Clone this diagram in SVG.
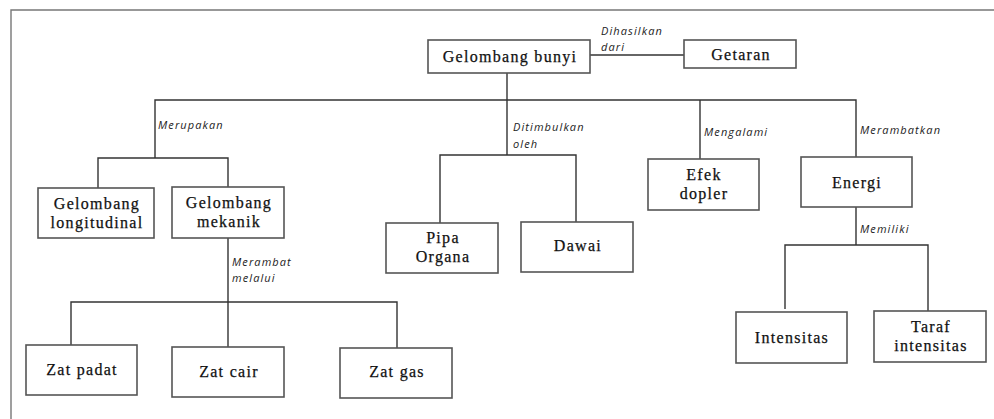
<svg xmlns="http://www.w3.org/2000/svg" width="994" height="419" viewBox="0 0 994 419">
<style>
.box{fill:#fff;stroke:#555;stroke-width:1.6}
.t{font-family:"Liberation Serif",serif;font-size:16px;letter-spacing:1.3px;fill:#111;text-anchor:middle;stroke:#111;stroke-width:0.25}
.l{font-family:"Open Sans","Liberation Sans",sans-serif;font-style:italic;font-size:11px;letter-spacing:1.1px;fill:#222}
.c{fill:none;stroke:#333;stroke-width:1.4}
</style>
<rect width="994" height="419" fill="#fff"/>
<path d="M11 419 V10 H994" fill="none" stroke="#777" stroke-width="1.4"/>
<g id="connectors">
<path class="c" d="M590 55 H684"/>
<path class="c" d="M507 73 V155"/>
<path class="c" d="M155 158 V100 H856 V157"/>
<path class="c" d="M98 188 V158 H228 V187"/>
<path class="c" d="M440 223 V155 H576 V222"/>
<path class="c" d="M700 100 V159"/>
<path class="c" d="M856 207 V245"/>
<path class="c" d="M785 309 V245 H928 V311"/>
<path class="c" d="M228 238 V347"/>
<path class="c" d="M71 345 V302 H397 V348"/>
<text class="l" x="601" y="35">Dihasilkan</text>
<text class="l" x="601" y="51">dari</text>
<text class="l" x="158" y="129">Merupakan</text>
<text class="l" x="513" y="131">Ditimbulkan</text>
<text class="l" x="513" y="148">oleh</text>
<text class="l" x="704" y="136">Mengalami</text>
<text class="l" x="860" y="134">Merambatkan</text>
<text class="l" x="860" y="233">Memiliki</text>
<text class="l" x="232" y="266">Merambat</text>
<text class="l" x="232" y="282">melalui</text>
</g>
<g id="gelombang-bunyi"><rect class="box" x="428" y="40" width="162" height="33"/><text class="t" x="510" y="62">Gelombang bunyi</text></g>
<g id="getaran"><rect class="box" x="684" y="40" width="112" height="28"/><text class="t" x="741" y="60">Getaran</text></g>
<g id="gelombang-longitudinal"><rect class="box" x="38" y="188" width="116" height="50"/><text class="t" x="97" y="209">Gelombang</text><text class="t" x="97" y="228">longitudinal</text></g>
<g id="gelombang-mekanik"><rect class="box" x="172" y="187" width="112" height="51"/><text class="t" x="229" y="208">Gelombang</text><text class="t" x="229" y="227">mekanik</text></g>
<g id="pipa-organa"><rect class="box" x="386" y="223" width="112" height="50"/><text class="t" x="443" y="243">Pipa</text><text class="t" x="443" y="262">Organa</text></g>
<g id="dawai"><rect class="box" x="521" y="222" width="112" height="50"/><text class="t" x="578" y="251">Dawai</text></g>
<g id="efek-dopler"><rect class="box" x="648" y="159" width="111" height="51"/><text class="t" x="704" y="180">Efek</text><text class="t" x="704" y="199">dopler</text></g>
<g id="energi"><rect class="box" x="801" y="157" width="111" height="50"/><text class="t" x="857" y="188">Energi</text></g>
<g id="intensitas"><rect class="box" x="736" y="312" width="111" height="51"/><text class="t" x="792" y="343">Intensitas</text></g>
<g id="taraf-intensitas"><rect class="box" x="874" y="311" width="112" height="51"/><text class="t" x="931" y="332">Taraf</text><text class="t" x="931" y="351">intensitas</text></g>
<g id="zat-padat"><rect class="box" x="26" y="345" width="111" height="50"/><text class="t" x="82" y="375">Zat padat</text></g>
<g id="zat-cair"><rect class="box" x="172" y="347" width="112" height="50"/><text class="t" x="229" y="377">Zat cair</text></g>
<g id="zat-gas"><rect class="box" x="340" y="348" width="112" height="50"/><text class="t" x="397" y="377">Zat gas</text></g>
</svg>
